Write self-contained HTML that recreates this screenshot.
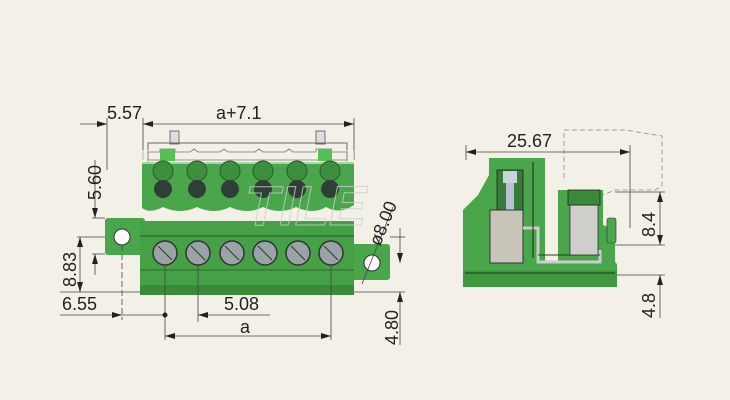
<!DOCTYPE html>
<html><head><meta charset="utf-8"><style>
html,body{margin:0;padding:0;background:#f3f0e8;}
svg{display:block;}
text{font-family:"Liberation Sans",sans-serif;fill:#222;}
</style></head><body>
<svg width="730" height="400" viewBox="0 0 730 400" xmlns="http://www.w3.org/2000/svg">
<defs>
<marker id="a" viewBox="0 0 10 6" refX="10" refY="3" markerWidth="10" markerHeight="6" orient="auto-start-reverse" markerUnits="userSpaceOnUse"><path d="M0,0L10,3L0,6z" fill="#222"/></marker>
</defs>
<rect width="730" height="400" fill="#f3f0e8"/>

<!-- LEFT COMPONENT -->
<g stroke="#444" stroke-width="0.8" fill="none">
 <line x1="107" y1="118" x2="107" y2="170"/>
 <line x1="143" y1="118" x2="143" y2="160"/>
 <line x1="354" y1="118" x2="354" y2="160"/>
 <line x1="80" y1="124" x2="107" y2="124" marker-end="url(#a)"/>
 <line x1="143" y1="124" x2="165" y2="124" marker-start="url(#a)"/>
 <line x1="165" y1="124" x2="354" y2="124" marker-end="url(#a)"/>
</g>
<text x="107" y="119" font-size="18">5.57</text>
<text x="216" y="119" font-size="18">a+7.1</text>

<rect x="170" y="131" width="9" height="13" fill="#ddd" stroke="#555" stroke-width="0.8"/>
<rect x="316" y="131" width="9" height="13" fill="#ddd" stroke="#555" stroke-width="0.8"/>
<rect x="148" y="143" width="199" height="37" fill="none" stroke="#666" stroke-width="1"/>
<path d="M142,162 H354 V205 Q340,215 326,207 Q313,215 296,207 Q280,215 263,207 Q247,215 230,207 Q214,215 197,207 Q180,215 163,207 Q150,214 142,208 Z" fill="#4aa64a"/>
<rect x="142" y="150" width="212" height="14" fill="#f3f0e8" opacity="0.6"/>
<path d="M148,152 H160 V149 H175 V152 H190 l4,-3 4,3 H220 l4,-3 4,3 H255 l4,-3 4,3 H285 l4,-3 4,3 H316 V149 H331 V152 H347 V160 H148 Z" fill="none" stroke="#777" stroke-width="0.8"/>
<rect x="160" y="149" width="15" height="12" fill="#56c056"/>
<rect x="318" y="149" width="14" height="12" fill="#56c056"/>
<g fill="#3d8f3d" stroke="#2a5a2a" stroke-width="1">
 <circle cx="163" cy="171" r="10"/><circle cx="197" cy="171" r="10"/><circle cx="230" cy="171" r="10"/>
 <circle cx="263" cy="171" r="10"/><circle cx="297" cy="171" r="10"/><circle cx="330" cy="171" r="10"/>
</g>
<g fill="#2f3f38">
 <circle cx="163" cy="189" r="9"/><circle cx="197" cy="189" r="9"/><circle cx="230" cy="189" r="9"/>
 <circle cx="263" cy="189" r="9"/><circle cx="297" cy="189" r="9"/><circle cx="330" cy="189" r="9"/>
</g>
<rect x="105" y="218" width="40" height="37" rx="3" fill="#4aa64a"/>
<circle cx="122" cy="237" r="8" fill="#fff" stroke="#333" stroke-width="1"/>
<rect x="350" y="244" width="40" height="36" rx="3" fill="#4aa64a"/>
<circle cx="372" cy="263" r="8" fill="#fff" stroke="#333" stroke-width="1"/>
<rect x="140" y="221" width="214" height="74" fill="#46a046"/>
<line x1="140" y1="236" x2="354" y2="236" stroke="#2d6a2d" stroke-width="1.2"/>
<line x1="140" y1="270" x2="354" y2="270" stroke="#2d6a2d" stroke-width="1"/>
<rect x="140" y="285" width="214" height="10" fill="#3a8a3a"/>
<g fill="#9aa3a6" stroke="#333" stroke-width="1.5">
 <circle cx="165" cy="253" r="12"/><circle cx="198" cy="253" r="12"/><circle cx="232" cy="253" r="12"/>
 <circle cx="265" cy="253" r="12"/><circle cx="298" cy="253" r="12"/><circle cx="331" cy="253" r="12"/>
</g>
<g stroke="#333" stroke-width="1">
 <line x1="158" y1="246" x2="172" y2="260"/><line x1="191" y1="246" x2="205" y2="260"/><line x1="225" y1="246" x2="239" y2="260"/>
 <line x1="258" y1="246" x2="272" y2="260"/><line x1="291" y1="246" x2="305" y2="260"/><line x1="324" y1="246" x2="338" y2="260"/>
</g>
<g stroke="#444" stroke-width="0.8" fill="none">
 <line x1="92" y1="218" x2="105" y2="218"/>
 <line x1="92" y1="254" x2="105" y2="254"/>
 <line x1="77" y1="237" x2="105" y2="237"/>
 <line x1="60" y1="292" x2="140" y2="292"/>
 <line x1="95" y1="160" x2="95" y2="218" marker-end="url(#a)"/>
 <line x1="95" y1="254" x2="95" y2="275" marker-start="url(#a)"/>
 <line x1="80" y1="237" x2="80" y2="292" marker-start="url(#a)" marker-end="url(#a)"/>
 <line x1="122" y1="245" x2="122" y2="320" stroke-dasharray="6,3"/>
 <line x1="165" y1="265" x2="165" y2="340"/>
 <line x1="198" y1="265" x2="198" y2="322"/>
 <line x1="331" y1="265" x2="331" y2="340"/>
 <line x1="60" y1="315" x2="122" y2="315" marker-end="url(#a)"/>
 <line x1="122" y1="315" x2="165" y2="315"/>
 <line x1="198" y1="315" x2="270" y2="315" marker-start="url(#a)"/>
 <line x1="165" y1="336" x2="331" y2="336" marker-start="url(#a)" marker-end="url(#a)"/>
 <line x1="390" y1="237" x2="405" y2="237"/>
 <line x1="354" y1="292" x2="405" y2="292"/>
 <line x1="400" y1="228" x2="400" y2="263" marker-end="url(#a)"/>
 <line x1="400" y1="292" x2="400" y2="345" marker-start="url(#a)"/>
 <line x1="362" y1="284" x2="393" y2="207"/>
</g>
<circle cx="165" cy="315" r="2.5" fill="#222"/>
<text x="62" y="310" font-size="18">6.55</text>
<text x="224" y="310" font-size="18">5.08</text>
<text x="240" y="333" font-size="18">a</text>
<text transform="translate(101,200) rotate(-90)" font-size="18">5.60</text>
<text transform="translate(76,287) rotate(-90)" font-size="18">8.83</text>
<text transform="translate(398,345) rotate(-90)" font-size="18">4.80</text>
<text transform="translate(380,247) rotate(-68)" font-size="18">ø8.00</text>

<text x="245" y="225" font-size="56" font-style="italic" font-weight="bold" stroke="#ccc" stroke-width="1" opacity="0.8" style="fill:none">TILE</text>

<!-- RIGHT COMPONENT -->
<g stroke="#444" stroke-width="0.8" fill="none">
 <line x1="466" y1="145" x2="466" y2="160"/>
 <line x1="630" y1="145" x2="630" y2="228"/>
 <line x1="466" y1="152" x2="630" y2="152" marker-start="url(#a)" marker-end="url(#a)"/>
 <path d="M564,178 V130 H625 L662,136 V186 L655,190 H615 L603,195" stroke-dasharray="5,3" stroke="#888"/>
 <line x1="615" y1="192" x2="665" y2="192"/>
 <line x1="615" y1="245" x2="665" y2="245"/>
 <line x1="617" y1="275" x2="665" y2="275"/>
 <line x1="660" y1="192" x2="660" y2="245" marker-start="url(#a)" marker-end="url(#a)"/>
 <line x1="660" y1="275" x2="660" y2="318" marker-start="url(#a)"/>
</g>
<text x="507" y="147" font-size="18">25.67</text>
<text transform="translate(655,237) rotate(-90)" font-size="18">8.4</text>
<text transform="translate(655,318) rotate(-90)" font-size="18">4.8</text>

<path d="M489,158 H545 V262 H558 V190 H603 V225 L615,230 V262 L617,264 V287 H463 V210 L478,195 L489,175 Z" fill="#4aa64a"/>
<rect x="463" y="270" width="154" height="17" fill="#3f9a3f"/>
<line x1="465" y1="273" x2="615" y2="273" stroke="#2a2a2a" stroke-width="1"/>
<rect x="497" y="170" width="26" height="40" fill="#3a7a3a" stroke="#222" stroke-width="0.8"/>
<rect x="503" y="171" width="14" height="12" fill="#c8d4dc"/>
<rect x="506" y="183" width="8" height="28" fill="#b7c4cf"/>
<rect x="490" y="210" width="33" height="53" fill="#c9c4ba" stroke="#333" stroke-width="1"/>
<path d="M523,228 H538 V262 H600 V250" fill="none" stroke="#ccc" stroke-width="3"/>
<path d="M538,255 H600" fill="none" stroke="#333" stroke-width="1"/>
<rect x="570" y="205" width="28" height="50" fill="#d0cfcc" stroke="#333" stroke-width="0.8"/>
<rect x="568" y="190" width="32" height="15" fill="#3a8a3a" stroke="#222" stroke-width="0.8"/>
<rect x="607" y="218" width="9" height="25" rx="2" fill="#4aa64a" stroke="#333" stroke-width="0.6"/>
<path d="M533,162 V258" stroke="#222" stroke-width="1"/>
</svg>
</body></html>
